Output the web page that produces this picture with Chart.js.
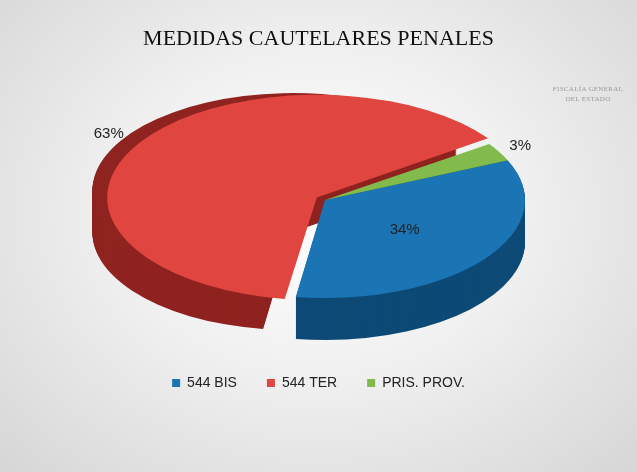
<!DOCTYPE html>
<html><head><meta charset="utf-8">
<script src="https://cdn.jsdelivr.net/npm/chart.js@4"></script>
<style>
html,body{margin:0;padding:0;}
body{width:637px;height:472px;overflow:hidden;background:radial-gradient(ellipse at 50% 45%,#ffffff 0%,#f0f0f0 45%,#d6d6d6 100%);position:relative;font-family:"Liberation Serif",serif;}
#wrap{position:absolute;left:0;top:0;width:637px;height:472px;}
#logo{position:absolute;left:548px;top:84px;width:80px;text-align:center;color:#9a9a9a;font-size:7px;line-height:10px;letter-spacing:0.3px;}
</style></head>
<body>
<div id="wrap"><canvas id="c" width="637" height="472"></canvas></div>
<div id="logo">FISCALÍA GENERAL<br>DEL ESTADO</div>
<script>
const labels = ['544 BIS', '544 TER', 'PRIS. PROV.'];
const values = [34, 63, 3];
const topColors = ['#1b74b3', '#e0463f', '#82bb4c'];
const sideColors = ['#0d4a76', '#8f2320', '#47711f'];
const labelRadius = [0.5, 1.08, 1.12];

const RX = 200, RY = 98, CX = 325, CY = 200, DEPTH = 42;
let SX = 1, SY = 1;

function shape(chart){
  const a = chart.chartArea;
  const r = chart.getDatasetMeta(0).data[0].outerRadius;
  SX = RX / r; SY = RY / r;
  return { cx:(a.left+a.right)/2, cy:(a.top+a.bottom)/2 };
}
function applyTransform(chart, ctx){
  const s = shape(chart);
  ctx.translate(CX, CY); ctx.scale(SX, SY); ctx.translate(-s.cx, -s.cy);
}
function arcCenter(arc){
  const mid = (arc.startAngle + arc.endAngle) / 2, off = arc.options.offset || 0;
  return { x: arc.x + Math.cos(mid) * off, y: arc.y + Math.sin(mid) * off, mid };
}

const pie3d = {
  id: 'pie3d',
  beforeDatasetsDraw(chart){
    const ctx = chart.ctx, meta = chart.getDatasetMeta(0);
    ctx.save();
    applyTransform(chart, ctx);
    for (let d = DEPTH; d > 0; d--) {
      meta.data.forEach((arc, i) => {
        const c = arcCenter(arc);
        ctx.beginPath();
        ctx.moveTo(c.x, c.y + d / SY);
        ctx.arc(c.x, c.y + d / SY, arc.outerRadius, arc.startAngle, arc.endAngle);
        ctx.closePath();
        ctx.fillStyle = sideColors[i];
        ctx.fill();
      });
    }
  },
  afterDatasetsDraw(chart){
    chart.ctx.restore();
    const ctx = chart.ctx, meta = chart.getDatasetMeta(0), s = shape(chart);
    ctx.save();
    ctx.font = '15px "Liberation Sans", Arial, sans-serif';
    ctx.fillStyle = '#222'; ctx.textAlign = 'center'; ctx.textBaseline = 'middle';
    meta.data.forEach((arc, i) => {
      const c = arcCenter(arc);
      const px = c.x + Math.cos(c.mid) * arc.outerRadius * labelRadius[i];
      const py = c.y + Math.sin(c.mid) * arc.outerRadius * labelRadius[i];
      const x = CX + (px - s.cx) * SX, y = CY + (py - s.cy) * SY;
      ctx.fillText(values[i] + '%', x, y);
    });
    ctx.restore();
  }
};

new Chart(document.getElementById('c'), {
  type: 'pie',
  data: { labels, datasets: [{ data: values, backgroundColor: topColors, borderWidth: 0, offset: [0, 24, 0] }] },
  options: {
    responsive: false, animation: false, rotation: 66,
    layout: { padding: { top: 0, bottom: 72 } },
    plugins: {
      title: { display: true, text: 'MEDIDAS CAUTELARES PENALES', color: '#111',
        font: { family: '"Liberation Serif", serif', size: 22, weight: 'normal' }, padding: { top: 26, bottom: 20 } },
      legend: { position: 'bottom', labels: { usePointStyle: true, pointStyle: 'rect', boxWidth: 8, boxHeight: 8,
        padding: 30, color: '#222', font: { family: '"Liberation Sans", Arial, sans-serif', size: 14 } } },
      tooltip: { enabled: false }
    }
  },
  plugins: [pie3d]
});
</script>
</body></html>
